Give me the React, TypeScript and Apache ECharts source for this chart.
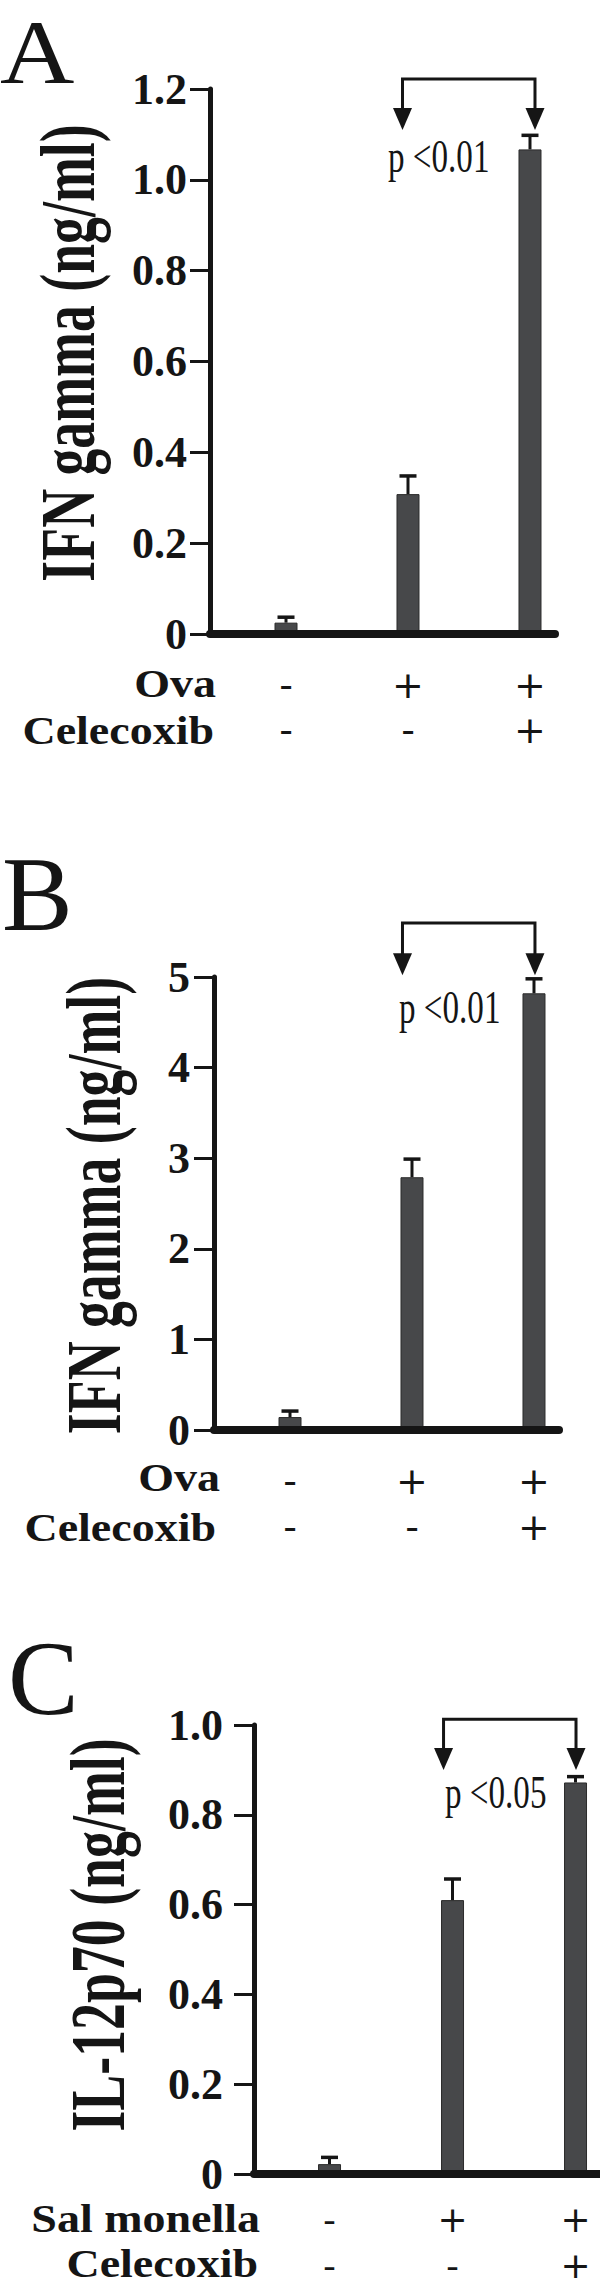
import React, { useEffect, useRef } from "react";
import * as echarts from "echarts";

// ---- data ----
const groupPos = [1, 2, 3];
const ovaRow = ["-", "+", "+"];
const celecoxibRow = ["-", "-", "+"];
const salmonellaRow = ["-", "+", "+"];

const ifnA = [0.025, 0.308, 1.067];
const ifnAErr = [0.012, 0.04, 0.031];
const ifnB = [0.143, 2.79, 4.82];
const ifnBErr = [0.066, 0.2, 0.16];
const il12C = [0.022, 0.61, 0.872];
const il12CErr = [0.015, 0.047, 0.013];

// bracket ends (x, in group units) and levels (top, arrow tip) in data units
const bracketXA = [1.955, 3.041];
const bracketYA = [1.222, 1.11];
const bracketXB = [1.922, 3.008];
const bracketYB = [5.595, 5.02];
const bracketXC = [1.927, 3.004];
const bracketYC = [1.013, 0.9];

const yMaxes = [1.2, 5, 1.0];
const yIntervals = [0.2, 1, 0.2];
const pLabels = ["p <0.01", "p <0.01", "p <0.05"];
const yTitles = ["IFN gamma (ng/ml)", "IFN gamma (ng/ml)", "IL-12p70 (ng/ml)"];
const panelLetters = ["A", "B", "C"];
const rowNamesA = ["Ova", "Celecoxib"];
const rowNamesB = ["Ova", "Celecoxib"];
const rowNamesC = ["Sal monella", "Celecoxib"];

const INK = "#151515";
const BAR = "#47484a";
const SERIF = "'Liberation Serif', 'Times New Roman', serif";
const SIGNS = "'DejaVu Sans', 'Liberation Sans', sans-serif";

export default function App() {
  const ref = useRef<HTMLDivElement | null>(null);

  useEffect(() => {
    if (!ref.current) return;
    const chart = echarts.init(ref.current, null, { renderer: "svg" });

    const panels = [
      {
        grid: { left: 210, top: 89, width: 345, height: 545 },
        xmin: 0.377, xmax: 3.205,
        vals: ifnA, errs: ifnAErr,
        bx: bracketXA, by: bracketYA,
        rows: [ovaRow, celecoxibRow],
        signSize: 38, lineHeight: 45, labelMargin: 28, tickMargin: 23,
      },
      {
        grid: { left: 214, top: 977, width: 345, height: 453 },
        xmin: 0.377, xmax: 3.205,
        vals: ifnB, errs: ifnBErr,
        bx: bracketXB, by: bracketYB,
        rows: [ovaRow, celecoxibRow],
        signSize: 38, lineHeight: 46, labelMargin: 28, tickMargin: 24,
      },
      {
        grid: { left: 254, top: 1725, width: 346, height: 451 },
        xmin: 0.386, xmax: 3.199,
        vals: il12C, errs: il12CErr,
        bx: bracketXC, by: bracketYC,
        rows: [salmonellaRow, celecoxibRow],
        signSize: 36, lineHeight: 46, labelMargin: 22, tickMargin: 31,
      },
    ];

    const grids = panels.map((p) => ({ ...p.grid, containLabel: false }));

    const xAxes = panels.map((p, i) => ({
      type: "value",
      gridIndex: i,
      min: p.xmin,
      max: p.xmax,
      z: 5,
      axisLine: { show: true, onZero: false, lineStyle: { color: INK, width: 8 } },
      axisTick: { show: false },
      splitLine: { show: false },
      axisLabel: {
        show: true,
        customValues: groupPos,
        margin: p.labelMargin,
        color: INK,
        fontFamily: SIGNS,
        fontSize: p.signSize,
        lineHeight: p.lineHeight,
        formatter: (v: number) => {
          const j = groupPos.findIndex((g) => Math.abs(g - v) < 1e-6);
          if (j < 0) return "";
          return p.rows[0][j] + "\n" + p.rows[1][j];
        },
      },
    }));

    const yAxes = panels.map((p, i) => ({
      type: "value",
      gridIndex: i,
      min: 0,
      max: yMaxes[i],
      interval: yIntervals[i],
      z: 5,
      axisLine: { show: true, lineStyle: { color: INK, width: 5 } },
      axisTick: { show: true, length: 20, lineStyle: { color: INK, width: 3 } },
      splitLine: { show: false },
      axisLabel: {
        margin: p.tickMargin,
        color: INK,
        fontFamily: SERIF,
        fontWeight: "bold",
        fontSize: 44,
        formatter: (v: number) =>
          v === 0 ? "0" : yIntervals[i] >= 1 ? String(Math.round(v)) : v.toFixed(1),
      },
    }));

    const series: any[] = [];
    panels.forEach((p, i) => {
      series.push({
        type: "bar",
        xAxisIndex: i,
        yAxisIndex: i,
        barWidth: 23,
        z: 2,
        itemStyle: { color: BAR, borderColor: "#2b2b2b", borderWidth: 1 },
        data: groupPos.map((x, j) => [x, p.vals[j]]),
      });
      series.push({
        type: "custom",
        xAxisIndex: i,
        yAxisIndex: i,
        clip: false,
        z: 4,
        encode: { x: 0, y: 1 },
        data: groupPos.map((x, j) => [x, p.vals[j], p.errs[j]]),
        renderItem: (params: any, api: any) => {
          const x = api.value(0);
          const v = api.value(1);
          const e = api.value(2);
          const p0 = api.coord([x, v]);
          const p1 = api.coord([x, v + e]);
          return {
            type: "group",
            children: [
              {
                type: "line",
                shape: { x1: p0[0], y1: p0[1], x2: p1[0], y2: p1[1] },
                style: { stroke: INK, lineWidth: 3 },
              },
              {
                type: "line",
                shape: { x1: p1[0] - 8.5, y1: p1[1], x2: p1[0] + 8.5, y2: p1[1] },
                style: { stroke: INK, lineWidth: 3.5 },
              },
            ],
          };
        },
      });
      series.push({
        type: "custom",
        xAxisIndex: i,
        yAxisIndex: i,
        clip: false,
        z: 4,
        encode: { x: [0, 1], y: [2, 3] },
        data: [[p.bx[0], p.bx[1], p.by[0], p.by[1]]],
        renderItem: (params: any, api: any) => {
          const x0 = api.value(0);
          const x1 = api.value(1);
          const top = api.value(2);
          const tip = api.value(3);
          const l = api.coord([x0, top]);
          const r = api.coord([x1, top]);
          const lt = api.coord([x0, tip]);
          const rt = api.coord([x1, tip]);
          const head = 22;
          const hw = 9.5;
          return {
            type: "group",
            children: [
              {
                type: "polyline",
                shape: {
                  points: [
                    [l[0], lt[1] - head + 2],
                    [l[0], l[1]],
                    [r[0], r[1]],
                    [r[0], rt[1] - head + 2],
                  ],
                },
                style: { stroke: INK, lineWidth: 3, fill: "none" },
              },
              {
                type: "polygon",
                shape: {
                  points: [
                    [lt[0] - hw, lt[1] - head],
                    [lt[0] + hw, lt[1] - head],
                    [lt[0], lt[1]],
                  ],
                },
                style: { fill: INK },
              },
              {
                type: "polygon",
                shape: {
                  points: [
                    [rt[0] - hw, rt[1] - head],
                    [rt[0] + hw, rt[1] - head],
                    [rt[0], rt[1]],
                  ],
                },
                style: { fill: INK },
              },
            ],
          };
        },
      });
    });

    const txt = (
      text: string,
      x: number,
      y: number,
      font: string,
      align: string,
      extra: any = {}
    ) => ({
      type: "text",
      x,
      y,
      z: 10,
      ...extra,
      style: {
        text,
        font,
        fill: INK,
        align,
        verticalAlign: "middle",
        textAlign: align,
        textVerticalAlign: "middle",
      },
    });

    const letterFontA = `normal 92px ${SERIF}`;
    const letterFont = `normal 106px ${SERIF}`;
    const titleFont = `bold 78px ${SERIF}`;
    const rowFont = `bold 40px ${SERIF}`;
    const pFont = `normal 46px ${SERIF}`;
    const rot = { rotation: Math.PI / 2, scaleX: 0.69, scaleY: 1 };
    const wide = { scaleX: 1.15, scaleY: 1 };
    const narrow = { scaleX: 0.72, scaleY: 1 };

    const graphic = [
      txt(panelLetters[0], 0, 51.5, letterFontA, "left", { scaleX: 1.12, scaleY: 1 }),
      txt(panelLetters[1], 2, 894, letterFont, "left"),
      txt(panelLetters[2], 8, 1678, letterFont, "left"),
      txt(yTitles[0], 67.7, 353, titleFont, "center", rot),
      txt(yTitles[1], 93.7, 1205.5, titleFont, "center", rot),
      txt(yTitles[2], 97.7, 1935, titleFont, "center", rot),
      txt(rowNamesA[0], 216, 683.5, rowFont, "right", wide),
      txt(rowNamesA[1], 214, 730.5, rowFont, "right", wide),
      txt(rowNamesB[0], 220, 1477.5, rowFont, "right", wide),
      txt(rowNamesB[1], 216, 1527.5, rowFont, "right", wide),
      txt(rowNamesC[0], 260, 2219, rowFont, "right", wide),
      txt(rowNamesC[1], 258, 2264, rowFont, "right", wide),
      txt(pLabels[0], 388, 156.5, pFont, "left", narrow),
      txt(pLabels[1], 399, 1007.5, pFont, "left", narrow),
      txt(pLabels[2], 445, 1792.5, pFont, "left", narrow),
    ];

    chart.setOption({
      animation: false,
      backgroundColor: "#ffffff",
      grid: grids,
      xAxis: xAxes,
      yAxis: yAxes,
      series,
      graphic,
    });

    return () => {
      chart.dispose();
    };
  }, []);

  return (
    <div
      ref={ref}
      style={{ position: "absolute", left: 0, top: 0, width: 600, height: 2288, background: "#fff" }}
    />
  );
}
